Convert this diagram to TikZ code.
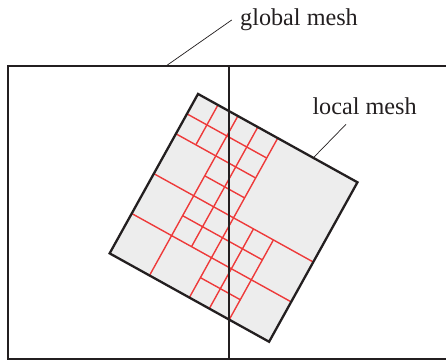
\documentclass[tikz,border=0pt]{standalone}
\usepackage{fontspec}
\setmainfont{Liberation Serif}
\definecolor{ink}{HTML}{231F20}
\definecolor{meshred}{HTML}{EE3A3A}
\definecolor{meshfill}{HTML}{EDEDED}
\begin{document}
\begin{tikzpicture}[x=1pt,y=-1pt,
  frame/.style={draw=ink,line width=2pt},
  patch/.style={draw=ink,line width=2.3pt,fill=meshfill,line join=miter},
  cell/.style={draw=meshred,line width=1.4pt},
  leader/.style={draw=ink,line width=0.7pt},
  tag/.style={font=\fontsize{24.2}{28}\selectfont,text=ink,inner sep=0pt,anchor=base west}]
\useasboundingbox (0,0) rectangle (446,360);

% global mesh outline (open to the right)
\coordinate (g-tr) at (446,65.5);
\coordinate (g-tl) at (7.5,65.5);
\coordinate (g-bl) at (7.5,358.5);
\coordinate (g-br) at (446,358.5);
\draw[frame] (g-tr) -- (g-tl) -- (g-bl) -- (g-br);

% local mesh: rotated square with quadtree refinement
\begin{scope}[shift={(109.64pt,-253.36pt)},x={(159.44pt,-88.38pt)},y={(88.38pt,159.44pt)}]
  \coordinate (p-l) at (0,0);
  \coordinate (p-b) at (1,0);
  \coordinate (p-r) at (1,1);
  \coordinate (p-t) at (0,1);
  \fill[meshfill] (p-l) -- (p-b) -- (p-r) -- (p-t) -- cycle;
  % level 1 and 2
  \draw[cell] (0.25,0) -- (0.25,1);
  \draw[cell] (0.5,0) -- (0.5,1);
  \draw[cell] (0,0.25) -- (1,0.25);
  \draw[cell] (0,0.5) -- (1,0.5);
  \draw[cell] (0.75,0) -- (0.75,0.5);
  \draw[cell] (0,0.75) -- (0.5,0.75);
  % level 3
  \draw[cell] (0.125,0.75) -- (0.125,1);
  \draw[cell] (0.375,0.25) -- (0.375,1);
  \draw[cell] (0.625,0) -- (0.625,0.5);
  \draw[cell] (0.5,0.125) -- (0.75,0.125);
  \draw[cell] (0.25,0.375) -- (0.75,0.375);
  \draw[cell] (0.25,0.625) -- (0.5,0.625);
  \draw[cell] (0,0.875) -- (0.5,0.875);
  \draw[patch,fill=none] (p-l) -- (p-b) -- (p-r) -- (p-t) -- cycle;
  \coordinate (p-hook) at (0.723,1);
\end{scope}

% interface line of the global mesh
\coordinate (g-mt) at (229,65.5);
\coordinate (g-mb) at (229,358.5);
\draw[frame] (g-mt) -- (g-mb);

% labels
\node[tag] (lab-g) at (240,25) {global mesh};
\node[tag] (lab-l) at (312.3,114.3) {local mesh};
\coordinate (g-hook) at (166.7,65.5);
\coordinate (g-start) at (231.7,20);
\coordinate (l-start) at (346,124.3);
\draw[leader] (g-start) -- (g-hook);
\draw[leader] (l-start) -- (p-hook);
\end{tikzpicture}
\end{document}
